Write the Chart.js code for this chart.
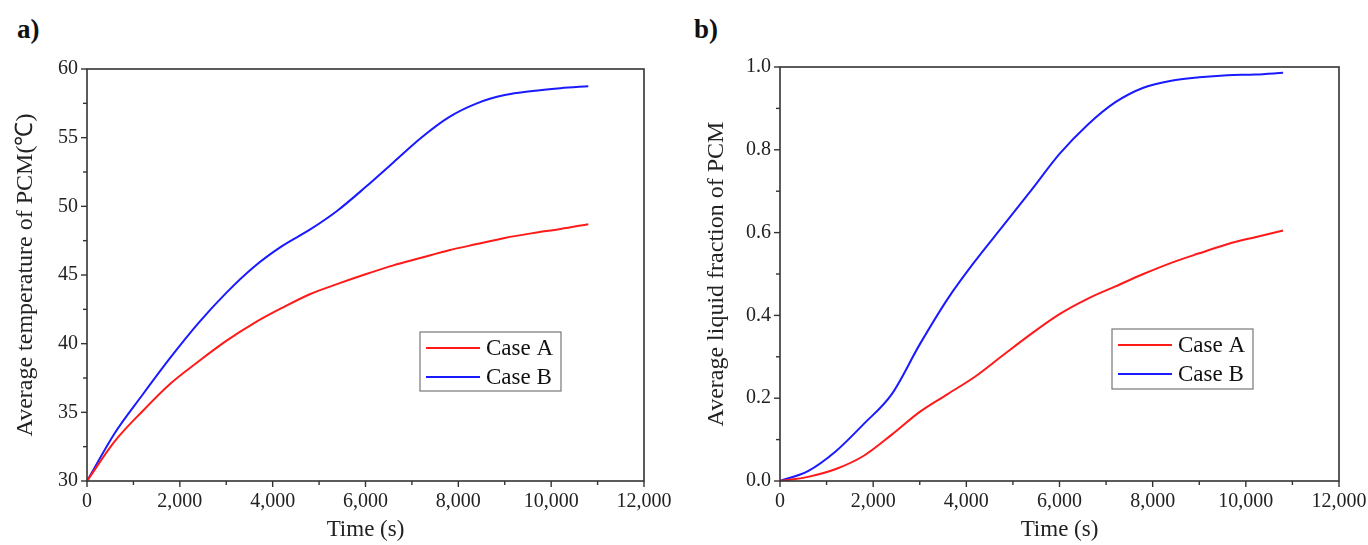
<!DOCTYPE html>
<html>
<head>
<meta charset="utf-8">
<script src="https://cdn.jsdelivr.net/npm/chart.js@4/dist/chart.umd.min.js"></script>
<style>
  body { margin: 0; background: #fff; width: 1368px; height: 545px; position: relative; overflow: hidden; }
  .panel { position: absolute; top: 0; }
  .tag { position: absolute; top: 14px; font: bold 27px "Liberation Serif", serif; color: #111; }
</style>
</head>
<body>
<div class="tag" style="left:17px">a)</div>
<div class="tag" style="left:694px">b)</div>
<div class="panel" style="left:0"><canvas id="chartA" width="684" height="545"></canvas></div>
<div class="panel" style="left:684px"><canvas id="chartB" width="684" height="545"></canvas></div>
<script>
// time axis (s)
const times = [0, 600, 1200, 1800, 2400, 3000, 3600, 4200, 4800, 5400, 6000, 6600, 7200, 7800, 8400, 9000, 9600, 10200, 10800];

// a) average temperature of PCM (deg C)
const tempCaseA = [30, 32.9, 35.1, 37.1, 38.7, 40.2, 41.5, 42.6, 43.6, 44.35, 45.05, 45.7, 46.25, 46.8, 47.25, 47.7, 48.05, 48.35, 48.7];
const tempCaseB = [30, 33.5, 36.3, 39.0, 41.5, 43.7, 45.6, 47.1, 48.3, 49.7, 51.4, 53.2, 55.0, 56.5, 57.5, 58.1, 58.4, 58.6, 58.75];

// b) average liquid fraction of PCM
const fracCaseA = [0, 0.01, 0.029, 0.061, 0.112, 0.167, 0.21, 0.253, 0.305, 0.356, 0.403, 0.44, 0.47, 0.50, 0.527, 0.55, 0.572, 0.589, 0.605];
const fracCaseB = [0, 0.024, 0.072, 0.138, 0.21, 0.33, 0.44, 0.533, 0.618, 0.703, 0.79, 0.86, 0.915, 0.95, 0.967, 0.975, 0.98, 0.982, 0.986];

const seriesNames = ['Case A', 'Case B'];
const seriesColors = ['#ff1a1a', '#1a1aff'];

const serif = '"Liberation Serif", "Times New Roman", serif';
const axisColor = '#333';

function toPoints(ys) {
    return times.map((t, i) => ({ x: t, y: ys[i] }));
}

// draws the frame, major + minor tick marks and an inside legend box
const framePlugin = {
    id: 'frame',
    afterDraw(chart, args, opts) {
        const ctx = chart.ctx;
        const a = chart.chartArea;
        ctx.save();
        ctx.strokeStyle = axisColor;
        ctx.lineWidth = 1.6;
        ctx.strokeRect(a.left, a.top, a.right - a.left, a.bottom - a.top);

        // ticks
        ctx.lineWidth = 1.4;
        const xs = chart.scales.x, ys = chart.scales.y;
        for (let v = xs.min; v <= xs.max + 1e-9; v += opts.xMinor) {
            const major = Math.abs(Math.round(v / opts.xMajor) * opts.xMajor - v) < 1e-6;
            const px = xs.getPixelForValue(v);
            ctx.beginPath();
            ctx.moveTo(px, a.bottom);
            ctx.lineTo(px, a.bottom + (major ? 6 : 4));
            ctx.stroke();
        }
        for (let v = ys.min; v <= ys.max + 1e-9; v += opts.yMinor) {
            const major = Math.abs(Math.round(v / opts.yMajor) * opts.yMajor - v) < 1e-6;
            const py = ys.getPixelForValue(v);
            ctx.beginPath();
            ctx.moveTo(a.left, py);
            ctx.lineTo(a.left - (major ? 6 : 4), py);
            ctx.stroke();
        }

        // legend box
        const lg = opts.legend;
        ctx.strokeStyle = '#777';
        ctx.lineWidth = 1.2;
        ctx.strokeRect(lg.x, lg.y, lg.w, lg.h);
        ctx.font = '23px ' + serif;
        ctx.textBaseline = 'middle';
        ctx.fillStyle = '#111';
        chart.data.datasets.forEach((ds, i) => {
            const cy = lg.y + 16 + i * 29;
            ctx.strokeStyle = ds.borderColor;
            ctx.lineWidth = 2;
            ctx.beginPath();
            ctx.moveTo(lg.x + 6, cy);
            ctx.lineTo(lg.x + 60, cy);
            ctx.stroke();
            ctx.fillText(ds.label, lg.x + 66, cy + 1);
        });
        ctx.restore();
    }
};

function makeChart(id, dataA, dataB, cfg) {
    return new Chart(document.getElementById(id), {
        type: 'line',
        data: {
            datasets: [dataA, dataB].map((d, i) => ({
                label: seriesNames[i],
                data: toPoints(d),
                borderColor: seriesColors[i],
                borderWidth: 2,
                pointRadius: 0,
                cubicInterpolationMode: 'monotone',
                fill: false
            }))
        },
        options: {
            responsive: false,
            animation: false,
            layout: { padding: { top: cfg.top, right: cfg.right, left: 0, bottom: 0 } },
            plugins: {
                legend: { display: false },
                tooltip: { enabled: false },
                frame: cfg.frame
            },
            scales: {
                x: {
                    type: 'linear',
                    min: 0, max: 12000,
                    afterFit: s => { s.height = 64; s.paddingLeft = 0; s.paddingRight = 0; },
                    grid: { display: false, drawTicks: false },
                    border: { display: false },
                    ticks: {
                        stepSize: 2000,
                        padding: 9,
                        color: '#222',
                        font: { family: serif, size: 20 },
                        maxRotation: 0,
                        callback: v => v.toLocaleString('en-US')
                    },
                    title: {
                        display: true,
                        text: 'Time (s)',
                        color: '#222',
                        font: { family: serif, size: 23 },
                        padding: { top: 0, bottom: 1 }
                    }
                },
                y: {
                    min: cfg.yMin, max: cfg.yMax,
                    afterFit: s => { s.width = cfg.yWidth; s.paddingTop = 0; s.paddingBottom = 0; },
                    grid: { display: false, drawTicks: false },
                    border: { display: false },
                    ticks: {
                        stepSize: cfg.yStep,
                        padding: 9,
                        color: '#222',
                        font: { family: serif, size: 20 },
                        callback: cfg.yFormat
                    },
                    title: {
                        display: true,
                        text: cfg.yTitle,
                        color: '#222',
                        font: { family: serif, size: 24 },
                        padding: { top: cfg.yTitlePad, bottom: 0 }
                    }
                }
            }
        },
        plugins: [framePlugin]
    });
}

makeChart('chartA', tempCaseA, tempCaseB, {
    top: 69, right: 40, yWidth: 87, yTitlePad: 11,
    yMin: 30, yMax: 60, yStep: 5,
    yFormat: v => String(v),
    yTitle: 'Average temperature of PCM(℃)',
    frame: { xMajor: 2000, xMinor: 1000, yMajor: 5, yMinor: 2.5,
             legend: { x: 420, y: 332, w: 141, h: 59 } }
});

makeChart('chartB', fracCaseA, fracCaseB, {
    top: 67, right: 29, yWidth: 96, yTitlePad: 18,
    yMin: 0, yMax: 1, yStep: 0.2,
    yFormat: v => v.toFixed(1),
    yTitle: 'Average liquid fraction of PCM',
    frame: { xMajor: 2000, xMinor: 1000, yMajor: 0.2, yMinor: 0.1,
             legend: { x: 428, y: 329, w: 141, h: 60 } }
});
</script>
</body>
</html>
